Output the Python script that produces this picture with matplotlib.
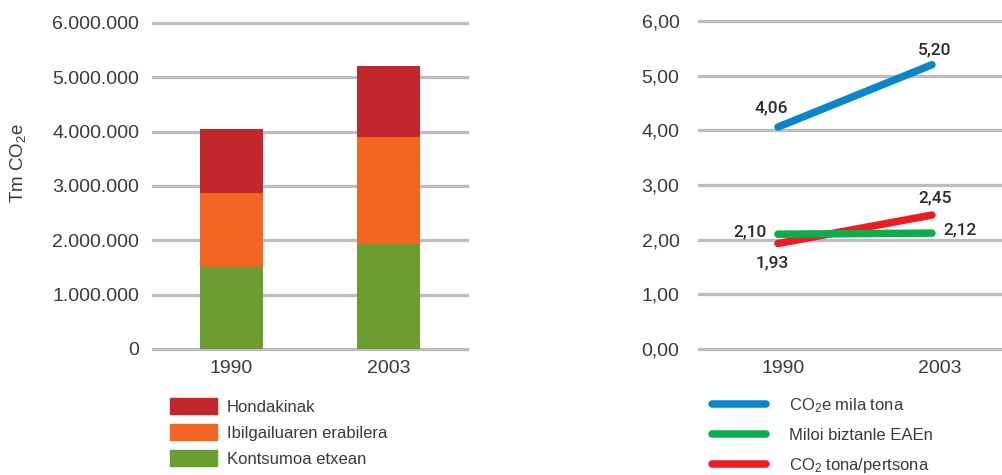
import numpy as np
import matplotlib
matplotlib.use('Agg')
import matplotlib.pyplot as plt
from matplotlib.patches import Patch
from matplotlib.lines import Line2D

plt.rcParams['font.family'] = ['Liberation Sans', 'DejaVu Sans']
plt.rcParams['mathtext.fontset'] = 'custom'
plt.rcParams['mathtext.rm'] = 'Liberation Sans'
plt.rcParams['mathtext.it'] = 'Liberation Sans'

# data
years = ['1990', '2003']
kontsumoa = [1510000, 1930000]
ibilgailua = [1360000, 1970000]
hondakinak = [1180000, 1310000]
bar_labels = ['Hondakinak', 'Ibilgailuaren erabilera', 'Kontsumoa etxean']
bar_ticks = [0, 1000000, 2000000, 3000000, 4000000, 5000000, 6000000]
bar_ticklabels = ['0', '1.000.000', '2.000.000', '3.000.000', '4.000.000', '5.000.000', '6.000.000']

co2_mila = [4.06, 5.20]
miloi_biztanle = [2.10, 2.12]
co2_pertsona = [1.93, 2.45]
line_labels = ['CO$_2$e mila tona', 'Miloi biztanle EAEn', 'CO$_2$ tona/pertsona']
line_ticks = [0, 1, 2, 3, 4, 5, 6]
line_ticklabels = ['0,00', '1,00', '2,00', '3,00', '4,00', '5,00', '6,00']

txt = '#3a3a3a'
grid = '#bcbdc0'
c_red, c_orange, c_green = '#c1272d', '#f26522', '#6b9d30'
l_blue, l_green, l_red = '#0a85cc', '#0bae4a', '#ed1c24'

fig = plt.figure(figsize=(10.02, 4.75), dpi=100)

# --- left: stacked bars
ax1 = fig.add_axes([0.1527, 0.2653, 0.3134, 0.6863])
x = np.arange(len(years))
w = 0.40
b1 = np.array(kontsumoa)
b2 = b1 + np.array(ibilgailua)
ax1.bar(x, kontsumoa, w, color=c_green, zorder=3)
ax1.bar(x, ibilgailua, w, bottom=b1, color=c_orange, zorder=3)
ax1.bar(x, hondakinak, w, bottom=b2, color=c_red, zorder=3)
for t in bar_ticks:
    ax1.axhline(t, color=grid, lw=2.3, zorder=1, clip_on=False)
ax1.set_ylim(0, 6000000)
ax1.set_xlim(-0.5, 1.5)
ax1.set_yticks(bar_ticks)
ax1.set_yticklabels(bar_ticklabels)
ax1.set_xticks(x)
ax1.set_xticklabels(years)
ax1.tick_params(axis='y', length=0, pad=10, labelsize=14, labelcolor=txt)
ax1.tick_params(axis='x', length=0, pad=8, labelsize=14, labelcolor=txt)
for s in ax1.spines.values():
    s.set_visible(False)
fig.text(18 / 1002, 1 - 163 / 475, 'Tm CO$_2$e', rotation=90, ha='center', va='center',
         fontsize=13.5, color=txt)

handles = [Patch(color=c_red), Patch(color=c_orange), Patch(color=c_green)]
fig.legend(handles, bar_labels, loc='upper left', bbox_to_anchor=(170 / 1002, 1 - 398 / 475),
           frameon=False, borderpad=0, borderaxespad=0, fontsize=12,
           handlelength=2.81, handleheight=1.08, handletextpad=0.6, labelspacing=0.57,
           labelcolor=txt)

# --- right: lines
ax2 = fig.add_axes([0.6976, 0.2653, 0.3024, 0.6905])
xl = np.arange(len(years))
ax2.plot(xl, co2_mila, color=l_blue, lw=5.4, solid_capstyle='round', zorder=3)
ax2.plot(xl, co2_pertsona, color=l_red, lw=5.4, solid_capstyle='round', zorder=3)
ax2.plot(xl, miloi_biztanle, color=l_green, lw=5.4, solid_capstyle='round', zorder=4)
for t in line_ticks:
    ax2.axhline(t, color=grid, lw=2.3, zorder=1, clip_on=False)
ax2.set_ylim(0, 6)
ax2.set_xlim(-0.513, 1.455)
ax2.set_yticks(line_ticks)
ax2.set_yticklabels(line_ticklabels)
ax2.set_xticks(xl + np.array([0.032, 0.052]))
ax2.set_xticklabels(years)
ax2.tick_params(axis='y', length=0, pad=14, labelsize=14, labelcolor=txt)
ax2.tick_params(axis='x', length=0, pad=8, labelsize=14, labelcolor=txt)
for s in ax2.spines.values():
    s.set_visible(False)

fmt = lambda v: ('%.2f' % v).replace('.', ',')
ann = dict(textcoords='offset points', fontsize=12.5, fontweight=500, color='#2a2a2a',
           family=['Roboto', 'DejaVu Sans'], va='center')
ax2.annotate(fmt(co2_mila[0]), (0, co2_mila[0]), xytext=(-5, 14), ha='center', **ann)
ax2.annotate(fmt(co2_mila[1]), (1, co2_mila[1]), xytext=(2, 11), ha='center', **ann)
ax2.annotate(fmt(co2_pertsona[1]), (1, co2_pertsona[1]), xytext=(2, 12), ha='center', **ann)
ax2.annotate(fmt(co2_pertsona[0]), (0, co2_pertsona[0]), xytext=(-4, -14), ha='center', **ann)
ax2.annotate(fmt(miloi_biztanle[1]), (1, miloi_biztanle[1]), xytext=(8, 2), ha='left', **ann)
ax2.annotate(fmt(miloi_biztanle[0]), (0, miloi_biztanle[0]), xytext=(-8, 2), ha='right', **ann)

lh = [Line2D([0], [0], color=c, lw=5.4, solid_capstyle='round') for c in (l_blue, l_green, l_red)]
fig.legend(lh, line_labels, loc='upper left', bbox_to_anchor=(712 / 1002, 1 - 396 / 475),
           frameon=False, borderpad=0, borderaxespad=0, fontsize=12,
           handlelength=3.23, handletextpad=1.38, labelspacing=0.78, labelcolor=txt)

fig.savefig('out.png', dpi=100)
